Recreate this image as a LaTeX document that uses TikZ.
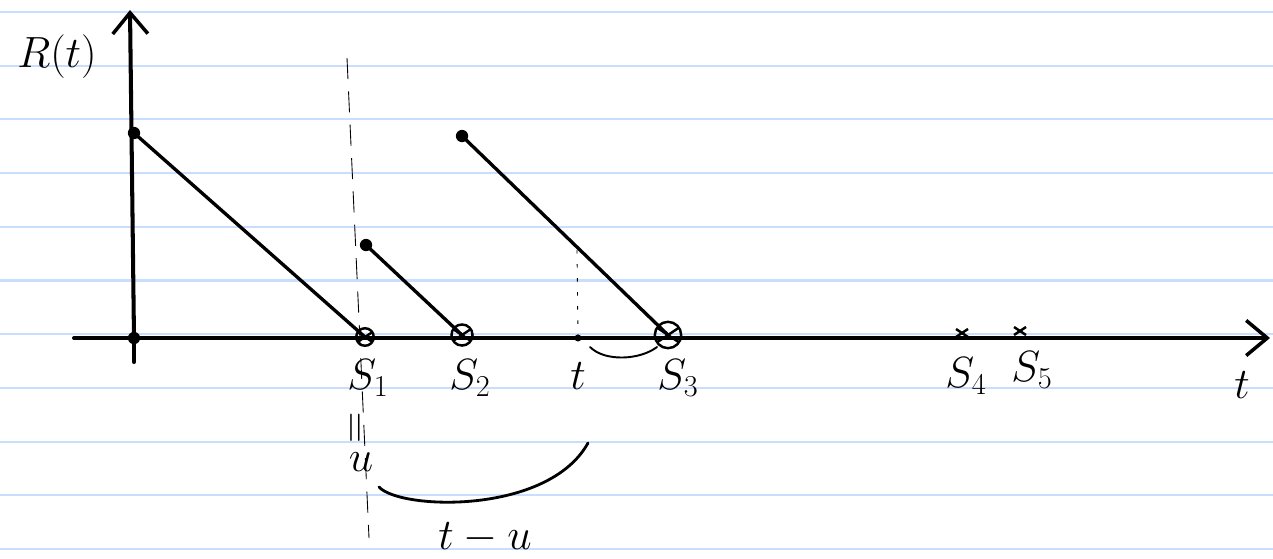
\documentclass[tikz,border=0pt]{standalone}
\usepackage{amsmath}
\usetikzlibrary{positioning, arrows.meta, calc}
\definecolor{ruleblue}{RGB}{200,222,252}
\tikzset{
  axis/.style={line width=2.3pt, line cap=round},
  axistip/.style={-{Straight Barb[length=12pt, width=20pt, line width=2pt]}},
  jump/.style={line width=1.9pt, line cap=round},
  dot/.style={circle, fill=black, inner sep=0pt, minimum size=7pt},
  renew/.style={line width=1.4pt},
  guide/.style={line width=0.5pt, dash pattern=on 12pt off 7pt},
  fine/.style={line width=0.5pt, dash pattern=on 2pt off 6pt},
  brace/.style={line width=1.1pt, line cap=round},
  lbl/.style={font=\fontsize{25}{29}\selectfont, inner sep=1pt}
}
\begin{document}
\begin{tikzpicture}[x=0.02cm, y=-0.02cm]

  \useasboundingbox (0,0) rectangle (1273,558);

  % Papel rayado
  \foreach \k in {0,...,10} {
    \draw[ruleblue, line width=1.2pt] (0, 12+53.7*\k) -- (1273, 12+53.7*\k);
  }

  % Puntos principales
  \coordinate (O) at (134,338);
  \coordinate (Ytop) at (130,10);
  \coordinate (Ybot) at (134,362);
  \coordinate (Xleft) at (74,338);
  \coordinate (Xright) at (1270,338);
  \coordinate (A0) at (134,133);
  \coordinate (A1) at (366,245);
  \coordinate (A2) at (462,136);
  \coordinate (S1) at (365,337);
  \coordinate (S2) at (462,335);
  \coordinate (S3) at (668,335);
  \coordinate (S4) at (962,333);
  \coordinate (S5) at (1020,331);
  \coordinate (T) at (578,338);

  % Ejes
  \draw[axis] (Ybot) -- (O);
  \draw[axis, axistip] (O) -- (Ytop);
  \draw[axis, axistip] (Xleft) -- (Xright);

  % Guias verticales
  \draw[guide] (347,58) coordinate (G1) -- (369,538) coordinate (G2);
  \draw[fine] (577,250) coordinate (G3) -- (T);

  % Tramos de R(t)
  \draw[jump] (A0) -- (S1);
  \draw[jump] (A1) -- (S2);
  \draw[jump] (A2) -- (S3);
  \foreach \p in {O, A0, A1, A2} {
    \node[dot] (d\p) at (\p) {};
  }
  \node[dot, minimum size=4pt] (dT) at (T) {};

  % Renovaciones (circulos con cruz)
  \foreach \p/\r in {S1/5pt, S2/6pt, S3/7.5pt} {
    \draw[renew] (\p) circle[radius=\r];
    \draw[renew] ($(\p)+(-0.75*\r,-0.5*\r)$) -- ($(\p)+(0.75*\r,0.5*\r)$);
    \draw[renew] ($(\p)+(-0.75*\r,0.5*\r)$) -- ($(\p)+(0.75*\r,-0.5*\r)$);
  }
  \foreach \p in {S4, S5} {
    \draw[renew] ($(\p)+(-6,-4)$) -- ($(\p)+(6,4)$);
    \draw[renew] ($(\p)+(-6,4)$) -- ($(\p)+(6,-4)$);
  }

  % Etiquetas
  \node[lbl] (lR) at (57,57) {$R(t)$};
  \node[lbl] (lS1) at (368,378) {$S_1$};
  \node[lbl] (lS2) at (470,378) {$S_2$};
  \node[lbl] (lT) at (578,376) {$t$};
  \node[lbl] (lS3) at (678,378) {$S_3$};
  \node[lbl] (lS4) at (966,376) {$S_4$};
  \node[lbl] (lS5) at (1032,370) {$S_5$};
  \node[lbl] (lt) at (1242,385) {$t$};
  \node[lbl, rotate=90] (lEq) at (358,428) {$=$};
  \node[lbl] (lU) at (361,462) {$u$};
  \node[lbl] (lTU) at (485,538) {$t-u$};

  % Arcos de distancia
  \draw[brace] (590,347) coordinate (B1) .. controls (605,362) and (640,360) .. (657,347) coordinate (B2);
  \draw[line width=1.6pt, line cap=round] (379,487) coordinate (C1) .. controls (400,510) and (548,515) .. (588,443) coordinate (C2);

\end{tikzpicture}
\end{document}
